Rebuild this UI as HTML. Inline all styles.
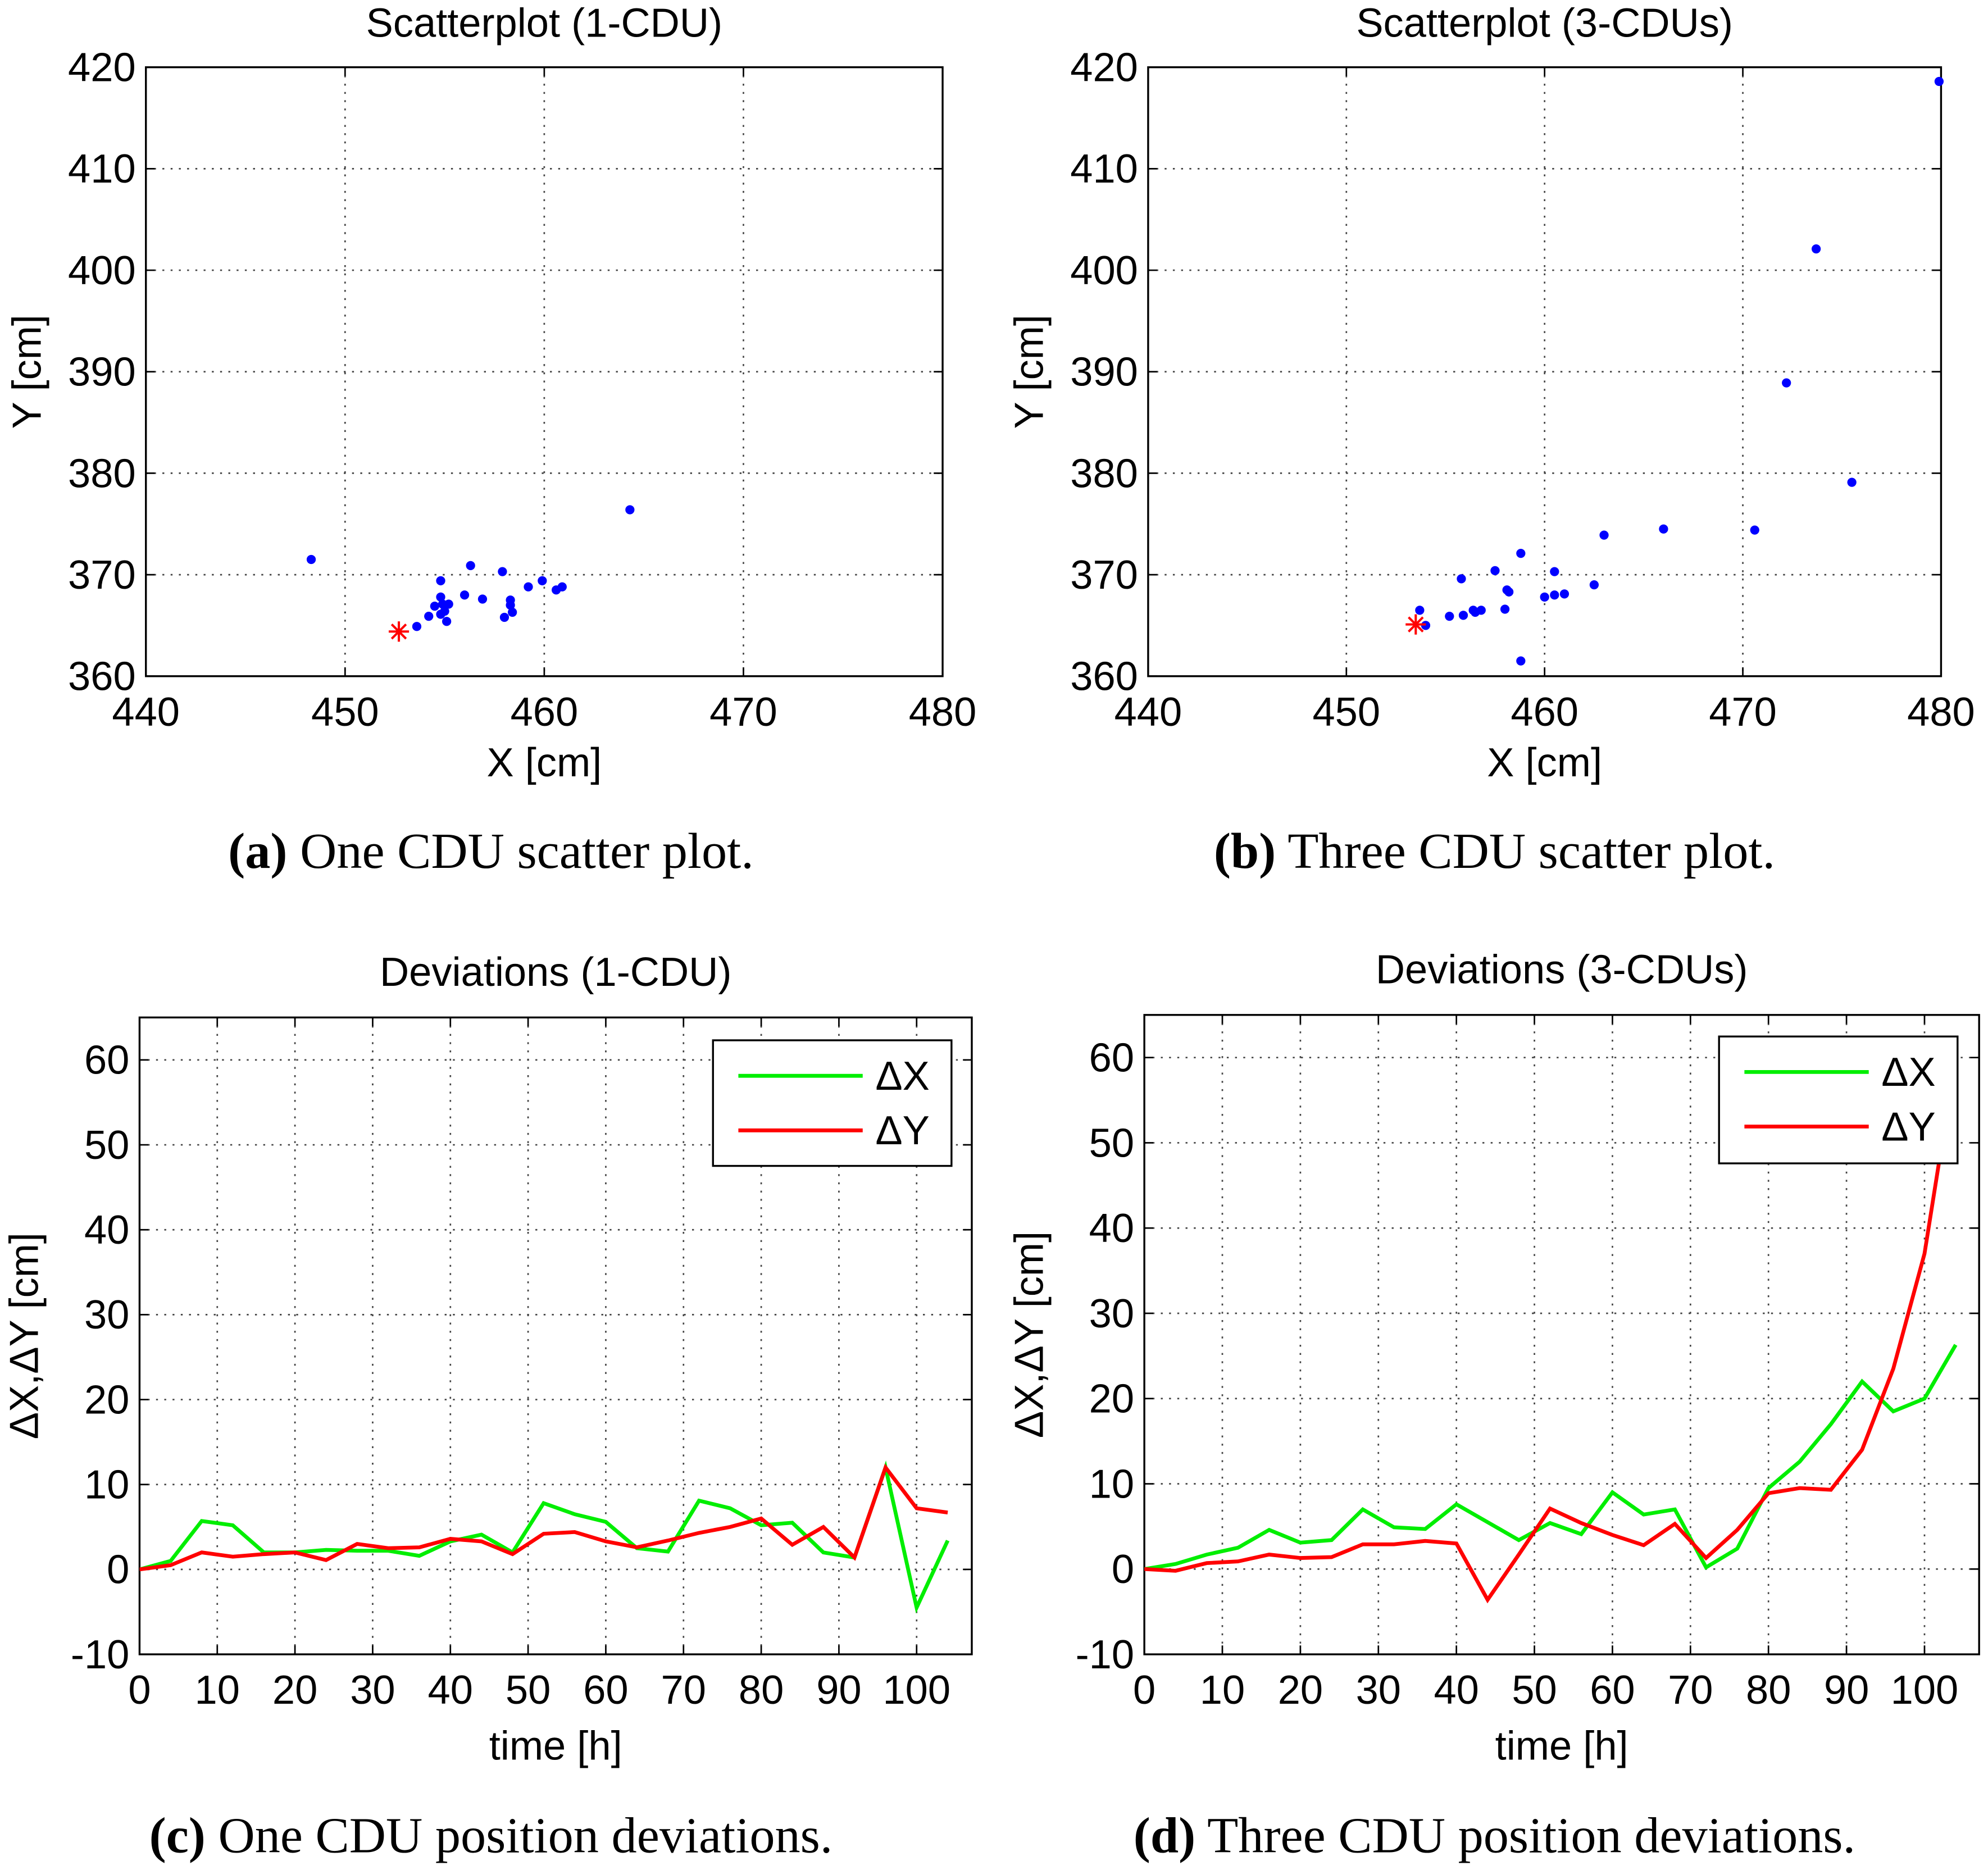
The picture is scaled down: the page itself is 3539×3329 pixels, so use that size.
<!DOCTYPE html>
<html><head><meta charset="utf-8"><style>
html,body{margin:0;padding:0;background:#fff;}
svg{display:block;}
text{font-family:"Liberation Sans",sans-serif;}
.cap{font-family:"Liberation Serif",serif;font-size:40px;}
</style></head><body>
<svg id="fig" width="3539" height="3329" viewBox="0 0 1567 1474" preserveAspectRatio="none" xmlns="http://www.w3.org/2000/svg"></svg>
<script>
const scatAX=[448.3,464.3,453.6,454.2,454.5,454.8,454.8,454.9,455.0,455.1,455.2,454.8,456.0,456.3,456.9,457.9,458.0,458.3,458.3,458.4,459.2,459.9,460.6,460.9];
const scatAY=[371.5,376.4,364.9,365.9,366.9,369.4,367.8,367.1,366.4,365.4,367.1,366.1,368.0,370.9,367.6,370.3,365.8,367.5,367.0,366.3,368.8,369.4,368.5,368.8];
const starA=[452.7,364.4];
const scatBX=[479.9,473.7,472.2,475.5,470.6,466.0,463.0,462.5,461.0,460.5,460.0,460.5,458.8,458.8,458.2,458.0,458.1,457.5,456.8,456.5,456.4,455.9,455.8,455.2,454.0,453.7];
const scatBY=[418.6,402.1,388.9,379.1,374.4,374.5,373.9,369.0,368.1,368.0,367.8,370.3,372.1,361.5,368.3,366.6,368.5,370.4,366.5,366.3,366.5,366.0,369.6,365.9,365.0,366.5];
const starB=[453.5,365.1];
const times=[0,4,8,12,16,20,24,28,32,36,40,44,48,52,56,60,64,68,72,76,80,84,88,92,96,100,104];
const devC_X=[0,1,5.7,5.2,2,2,2.3,2.2,2.2,1.6,3.3,4.1,2,7.8,6.5,5.6,2.5,2.1,8.1,7.2,5.2,5.5,2,1.4,12,-4.5,3.4];
const devC_Y=[0,0.5,2,1.5,1.8,2,1.1,3,2.5,2.6,3.6,3.3,1.8,4.2,4.4,3.3,2.6,3.4,4.3,5,6,2.9,5,1.4,12,7.2,6.7];
const devD_X=[0,0.6,1.7,2.5,4.6,3.1,3.4,7,4.9,4.7,7.6,5.5,3.4,5.4,4.1,9,6.4,7,0.2,2.4,9.5,12.6,17,22,18.5,20,26.3];
const devD_Y=[0,-0.2,0.7,0.9,1.7,1.3,1.4,2.9,2.9,3.3,3,-3.6,1.7,7.1,5.4,4,2.8,5.3,1.3,4.6,8.9,9.5,9.3,14,23.5,37,60];
const scatXTicks=[440,450,460,470,480];
const scatYTicks=[360,370,380,390,400,410,420];
const devXTicks=[0,10,20,30,40,50,60,70,80,90,100];
const devYTicks=[-10,0,10,20,30,40,50,60];

const NS="http://www.w3.org/2000/svg";
const fig=document.getElementById('fig');
const FS=32;
function mk(tag,attrs,parent,txt){const e=document.createElementNS(NS,tag);for(const k in attrs)e.setAttribute(k,attrs[k]);if(txt!==undefined)e.textContent=txt;(parent||fig).appendChild(e);return e;}

function axes(name,L,T,R,B,x0,x1,y0,y1,xt,yt,title,titleY,xl,xlY,yl,ylX){
  const g=mk('g',{});
  
  
  const sx=v=>L+(v-x0)/(x1-x0)*(R-L), sy=v=>B-(v-y0)/(y1-y0)*(B-T);
  xt.forEach(v=>{const x=sx(v);
    if(x>L+1&&x<R-1){const l=mk('line',{x1:x,y1:T,x2:x,y2:B,stroke:'#444','stroke-width':1.2,'stroke-dasharray':'1.5,5'},g);}
    mk('line',{x1:x,y1:B,x2:x,y2:B-7,stroke:'#000','stroke-width':1.2},g);mk('line',{x1:x,y1:T,x2:x,y2:T+7,stroke:'#000','stroke-width':1.2},g);
    const t=mk('text',{x:x,y:B+39,'font-size':FS,'text-anchor':'middle'},g,v);});
  yt.forEach(v=>{const y=sy(v);
    if(y>T+1&&y<B-1){const l=mk('line',{x1:L,y1:y,x2:R,y2:y,stroke:'#444','stroke-width':1.2,'stroke-dasharray':'1.5,5'},g);}
    mk('line',{x1:L,y1:y,x2:L+7,y2:y,stroke:'#000','stroke-width':1.2},g);mk('line',{x1:R,y1:y,x2:R-7,y2:y,stroke:'#000','stroke-width':1.2},g);
    const t=mk('text',{x:L-8,y:y+11,'font-size':FS,'text-anchor':'end'},g,v);});
  const bx=mk('rect',{x:L,y:T,width:R-L,height:B-T,fill:'none',stroke:'#000','stroke-width':1.5},g);
  
  const ti=mk('text',{x:(L+R)/2,y:titleY,'font-size':FS,'text-anchor':'middle'},g,title);
  
  const xa=mk('text',{x:(L+R)/2,y:xlY,'font-size':FS,'text-anchor':'middle'},g,xl);
  
  const cy=(T+B)/2;
  const ya=mk('text',{x:ylX,y:cy,'font-size':FS,'text-anchor':'middle',transform:`rotate(-90 ${ylX} ${cy})`},g,yl);
  
  return {g,sx,sy,L,T,R,B};
}
function scatter(ax,xs,ys,star){
  xs.forEach((v,i)=>{const c=mk('circle',{cx:ax.sx(v),cy:ax.sy(ys[i]),r:3.6,fill:'#0000ff'},ax.g);
    });
  const px=ax.sx(star[0]),py=ax.sy(star[1]);
  const s=mk('g',{stroke:'#ff0000','stroke-width':1.8},ax.g);
  
  for(let a=0;a<4;a++){const an=a*Math.PI/4;mk('line',{x1:px-8*Math.cos(an),y1:py-8*Math.sin(an),x2:px+8*Math.cos(an),y2:py+8*Math.sin(an)},s);}
}
function lines(ax,xs,ys,col,name,clipId){
  if(!document.getElementById(clipId)){mk('clipPath',{id:clipId},fig);mk('rect',{x:ax.L,y:ax.T,width:ax.R-ax.L,height:ax.B-ax.T},document.getElementById(clipId));}
  const p=mk('polyline',{points:xs.map((t,i)=>ax.sx(t)+','+ax.sy(ys[i])).join(' '),fill:'none',stroke:col,'stroke-width':3,'clip-path':`url(#${clipId})`},ax.g);
  
}
function legend(ax,x,y,w,h){
  const lg=mk('g',{},ax.g);
  
  mk('rect',{x:x,y:y,width:w,height:h,fill:'#fff',stroke:'#000','stroke-width':1.5},lg);
  [['#00ee00','ΔX',28],['#ff0000','ΔY',71]].forEach(([c,l,dy])=>{
    const e=mk('g',{},lg);
    
    mk('line',{x1:x+20,y1:y+dy,x2:x+118,y2:y+dy,stroke:c,'stroke-width':3},e);
    mk('text',{x:x+128,y:y+dy+11,'font-size':FS},e,l);});
}

const a=axes('scatter-1cdu',115,53,743,533,440,480,360,420,scatXTicks,scatYTicks,'Scatterplot (1-CDU)',29,'X [cm]',612,'Y [cm]',32);
scatter(a,scatAX,scatAY,starA);
const b=axes('scatter-3cdu',905,53,1530,533,440,480,360,420,scatXTicks,scatYTicks,'Scatterplot (3-CDUs)',29,'X [cm]',612,'Y [cm]',822);
scatter(b,scatBX,scatBY,starB);
const c=axes('deviations-1cdu',110,802,766,1304,0,107.1,-10,65,devXTicks,devYTicks,'Deviations (1-CDU)',777,'time [h]',1387,'ΔX,ΔY  [cm]',30);
lines(c,times,devC_X,'#00ee00','line-delta-x','cc');
lines(c,times,devC_Y,'#ff0000','line-delta-y','cc');
legend(c,562,820,188,99);
const d=axes('deviations-3cdu',902,800,1560,1304,0,107,-10,65,devXTicks,devYTicks,'Deviations (3-CDUs)',775,'time [h]',1387,'ΔX,ΔY  [cm]',822);
lines(d,times,devD_X,'#00ee00','line-delta-x','cd');
lines(d,times,devD_Y,'#ff0000','line-delta-y','cd');
legend(d,1355,817,188,100);

[['(a)',' One CDU scatter plot.',387,684],['(b)',' Three CDU scatter plot.',1178,684],['(c)',' One CDU position deviations.',387,1460],['(d)',' Three CDU position deviations.',1178,1460]].forEach(([b1,r,x,y])=>{
  const t=mk('text',{x:x,y:y,'text-anchor':'middle',class:'cap'});
  
  mk('tspan',{'font-weight':'bold'},t,b1);mk('tspan',{},t,r);
});
</script>
</body></html>
